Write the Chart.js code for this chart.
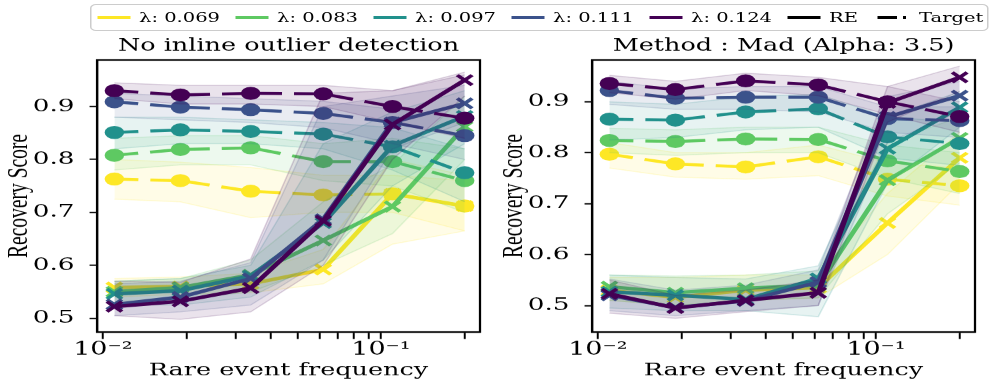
<!DOCTYPE html>
<html>
<head>
<meta charset="utf-8">
<script src="https://cdn.jsdelivr.net/npm/chart.js@4.4.0/dist/chart.umd.min.js"></script>
<style>
  html, body { margin: 0; padding: 0; background: #fff; overflow: hidden; }
  /* the reference figure is stretched horizontally, so draw narrow and stretch */
  #fig { position: absolute; left: 0; top: 0; width: 663.33px; height: 382px;
         transform: scaleX(1.5); transform-origin: 0 0; }
  #leftChart { position: absolute; left: 0; top: 0; }
  #rightChart { position: absolute; left: 330px; top: 0; }
  #legend { position: absolute; left: 60px; top: 4px; width: 599px; height: 27px;
            box-sizing: border-box; border: 1px solid #ccc; border-radius: 4px;
            background: rgba(255,255,255,0.85); display: flex; align-items: center;
            padding-left: 3.7px; font-family: 'DejaVu Serif'; font-size: 13px; color: #000; z-index: 2; }
  .item { display: flex; align-items: center; width: 92px; white-space: nowrap; flex: none; }
  .item.short { width: 60px; }
  .swatch { width: 22px; height: 3px; margin-right: 6px; flex: none; }
</style>
</head>
<body>
<div id="fig">
  <div id="legend"></div>
  <canvas id="leftChart" width="330" height="382"></canvas>
  <canvas id="rightChart" width="330" height="382"></canvas>
</div>
<script>
const lambdas = ['0.069', '0.083', '0.097', '0.111', '0.124'];
const colors = ['#fde725', '#5ec962', '#21918c', '#3b528b', '#440154'];
const xFreq = [0.011, 0.019, 0.034, 0.062, 0.11, 0.2];
const xTickValues = [0.01, 0.02, 0.03, 0.04, 0.05, 0.06, 0.07, 0.08, 0.09, 0.1, 0.2];
const xTickLabels = ['10\u207B\u00B2', '', '', '', '', '', '', '', '', '10\u207B\u00B9', ''];
const titles = ['No inline outlier detection', 'Method : Mad (Alpha: 3.5)'];

// left panel: no outlier detection
const leftRE = [
  [0.558, 0.560, 0.565, 0.592, 0.735, 0.712],
  [0.550, 0.558, 0.582, 0.647, 0.711, 0.862],
  [0.546, 0.552, 0.580, 0.680, 0.826, 0.882],
  [0.526, 0.540, 0.575, 0.687, 0.870, 0.906],
  [0.522, 0.532, 0.557, 0.684, 0.866, 0.950]
];
const leftRELo = [
  [0.540, 0.545, 0.548, 0.565, 0.640, 0.665],
  [0.532, 0.535, 0.550, 0.600, 0.660, 0.800],
  [0.525, 0.525, 0.540, 0.610, 0.750, 0.830],
  [0.505, 0.512, 0.525, 0.610, 0.820, 0.870],
  [0.505, 0.498, 0.512, 0.600, 0.800, 0.920]
];
const leftREHi = [
  [0.575, 0.578, 0.585, 0.630, 0.800, 0.770],
  [0.570, 0.575, 0.610, 0.720, 0.790, 0.920],
  [0.570, 0.575, 0.600, 0.830, 0.890, 0.930],
  [0.565, 0.570, 0.605, 0.900, 0.920, 0.940],
  [0.570, 0.568, 0.612, 0.925, 0.930, 0.965]
];
const leftTgt = [
  [0.763, 0.760, 0.740, 0.733, 0.735, 0.712],
  [0.808, 0.819, 0.822, 0.796, 0.796, 0.760],
  [0.851, 0.856, 0.853, 0.848, 0.824, 0.775],
  [0.909, 0.899, 0.894, 0.887, 0.870, 0.845],
  [0.930, 0.922, 0.925, 0.924, 0.900, 0.878]
];
const leftTgtLo = [
  [0.725, 0.720, 0.690, 0.700, 0.700, 0.665],
  [0.780, 0.790, 0.790, 0.760, 0.750, 0.700],
  [0.820, 0.830, 0.830, 0.820, 0.780, 0.720],
  [0.880, 0.875, 0.870, 0.860, 0.830, 0.800],
  [0.915, 0.905, 0.905, 0.900, 0.870, 0.840]
];
const leftTgtHi = [
  [0.800, 0.795, 0.785, 0.770, 0.770, 0.760],
  [0.840, 0.845, 0.845, 0.830, 0.840, 0.820],
  [0.880, 0.880, 0.875, 0.870, 0.860, 0.820],
  [0.925, 0.920, 0.915, 0.910, 0.895, 0.880],
  [0.945, 0.940, 0.940, 0.940, 0.930, 0.960]
];

// right panel: MAD, alpha 3.5
const rightRE = [
  [0.530, 0.516, 0.530, 0.535, 0.662, 0.790],
  [0.537, 0.525, 0.534, 0.540, 0.746, 0.829],
  [0.527, 0.520, 0.512, 0.553, 0.808, 0.889],
  [0.520, 0.496, 0.509, 0.546, 0.870, 0.912],
  [0.523, 0.495, 0.510, 0.525, 0.898, 0.948]
];
const rightRELo = [
  [0.510, 0.500, 0.510, 0.515, 0.600, 0.740],
  [0.510, 0.500, 0.510, 0.515, 0.680, 0.780],
  [0.495, 0.490, 0.490, 0.478, 0.740, 0.850],
  [0.490, 0.480, 0.490, 0.500, 0.820, 0.880],
  [0.485, 0.475, 0.488, 0.500, 0.860, 0.920]
];
const rightREHi = [
  [0.555, 0.555, 0.560, 0.560, 0.720, 0.840],
  [0.560, 0.558, 0.560, 0.568, 0.820, 0.870],
  [0.560, 0.555, 0.552, 0.578, 0.870, 0.920],
  [0.552, 0.530, 0.540, 0.570, 0.910, 0.940],
  [0.550, 0.520, 0.530, 0.550, 0.930, 0.970]
];
const rightTgt = [
  [0.797, 0.778, 0.772, 0.792, 0.748, 0.735],
  [0.824, 0.822, 0.827, 0.826, 0.784, 0.763],
  [0.866, 0.864, 0.880, 0.886, 0.831, 0.818],
  [0.922, 0.907, 0.909, 0.909, 0.867, 0.863],
  [0.936, 0.924, 0.941, 0.933, 0.900, 0.871]
];
const rightTgtLo = [
  [0.770, 0.752, 0.748, 0.755, 0.715, 0.697],
  [0.800, 0.795, 0.800, 0.800, 0.750, 0.720],
  [0.825, 0.830, 0.845, 0.850, 0.790, 0.775],
  [0.895, 0.885, 0.885, 0.880, 0.840, 0.830],
  [0.918, 0.905, 0.922, 0.912, 0.875, 0.840]
];
const rightTgtHi = [
  [0.820, 0.800, 0.800, 0.815, 0.780, 0.770],
  [0.848, 0.845, 0.850, 0.850, 0.815, 0.800],
  [0.900, 0.895, 0.910, 0.915, 0.870, 0.860],
  [0.940, 0.925, 0.930, 0.930, 0.890, 0.890],
  [0.952, 0.940, 0.956, 0.948, 0.930, 0.900]
];

const serif = 'DejaVu Serif';

function rgba(hex, a) {
  const n = parseInt(hex.slice(1), 16);
  return 'rgba(' + (n >> 16) + ',' + ((n >> 8) & 255) + ',' + (n & 255) + ',' + a + ')';
}

function pts(vals) {
  return xFreq.map((x, j) => ({ x: x, y: vals[j] }));
}

function band(lo, hi, c) {
  return [
    { data: pts(lo), borderColor: rgba(c, 0.18), borderWidth: 1, pointRadius: 0, fill: false },
    { data: pts(hi), borderColor: rgba(c, 0.18), borderWidth: 1, pointRadius: 0,
      fill: '-1', backgroundColor: rgba(c, 0.11) }
  ];
}

function buildDatasets(re, reLo, reHi, tgt, tgtLo, tgtHi) {
  const ds = [];
  lambdas.forEach((lam, i) => {
    const c = colors[i];
    ds.push(...band(reLo[i], reHi[i], c));
    ds.push({ data: pts(re[i]), borderColor: c, borderWidth: 3.5, fill: false,
      pointStyle: 'crossRot', pointRadius: 7, pointBorderWidth: 3, pointBorderColor: c,
      pointBackgroundColor: c });
    ds.push(...band(tgtLo[i], tgtHi[i], c));
    ds.push({ data: pts(tgt[i]), borderColor: c, borderWidth: 3, borderDash: [16, 8], fill: false,
      pointStyle: 'circle', pointRadius: 6.5, pointBorderWidth: 0, pointBackgroundColor: c });
  });
  // later series sit on top, like the plotting order
  ds.forEach((d, k) => { d.order = ds.length - k; });
  return ds;
}

const frame = {
  id: 'frame',
  afterDatasetsDraw(chart) {
    const a = chart.chartArea, ctx = chart.ctx;
    ctx.save();
    ctx.strokeStyle = '#000';
    ctx.lineWidth = 1.5;
    ctx.strokeRect(a.left, a.top, a.right - a.left, a.bottom - a.top);
    ctx.restore();
  }
};

function makeChart(id, title, yMin, yMax, datasets) {
  return new Chart(document.getElementById(id), {
    type: 'line',
    data: { datasets: datasets },
    options: {
      responsive: false,
      animation: false,
      devicePixelRatio: 1.5,
      layout: { padding: { left: 0, right: 4.7, top: 0, bottom: 0 } },
      plugins: {
        legend: { display: false },
        tooltip: { enabled: false },
        filler: { drawTime: 'beforeDatasetDraw' },
        title: { display: true, text: title, fullSize: false, color: '#000',
          font: { family: serif, size: 17, weight: 'normal' }, padding: { top: 36, bottom: 3.6 } }
      },
      scales: {
        x: {
          type: 'logarithmic', min: 0.00953, max: 0.227,
          afterBuildTicks: s => { s.ticks = xTickValues.map(v => ({ value: v })); },
          afterFit: s => { s.height = 50; },
          border: { display: true, color: '#000', width: 1.5 },
          grid: { drawOnChartArea: false, drawTicks: true, tickLength: 7, tickWidth: 1.3, tickColor: '#000' },
          ticks: { autoSkip: false, maxRotation: 0, padding: 0, color: '#000',
            font: { family: serif, size: 18 }, callback: (v, i) => xTickLabels[i] },
          title: { display: true, text: 'Rare event frequency', color: '#000',
            font: { family: serif, size: 17 }, padding: { top: 0, bottom: 1 } }
        },
        y: {
          type: 'linear', min: yMin, max: yMax,
          afterFit: s => { s.width = 64.7; },
          border: { display: true, color: '#000', width: 1.5 },
          grid: { drawOnChartArea: false, drawTicks: true, tickLength: 5, tickWidth: 1.3, tickColor: '#000' },
          ticks: { stepSize: 0.1, includeBounds: false, padding: 10, color: '#000',
            font: { family: serif, size: 17.5 }, callback: v => v.toFixed(1) },
          title: { display: true, text: 'Recovery Score', color: '#000',
            font: { family: 'Liberation Serif', size: 19.5 }, padding: { top: 1, bottom: 0 } }
        }
      }
    },
    plugins: [frame]
  });
}

makeChart('leftChart', titles[0], 0.474, 0.988,
  buildDatasets(leftRE, leftRELo, leftREHi, leftTgt, leftTgtLo, leftTgtHi));
makeChart('rightChart', titles[1], 0.448, 0.982,
  buildDatasets(rightRE, rightRELo, rightREHi, rightTgt, rightTgtLo, rightTgtHi));

// shared legend across both panels
const legend = document.getElementById('legend');
function addItem(label, color, dashed, short) {
  const item = document.createElement('div');
  item.className = short ? 'item short' : 'item';
  const sw = document.createElement('span');
  sw.className = 'swatch';
  sw.style.background = dashed
    ? 'linear-gradient(to right, ' + color + ' 0 13px, transparent 13px 17px, ' + color + ' 17px 19px, transparent 19px)'
    : color;
  const tx = document.createElement('span');
  tx.textContent = label;
  item.appendChild(sw);
  item.appendChild(tx);
  legend.appendChild(item);
}
lambdas.forEach((lam, i) => addItem('\u03BB: ' + lam, colors[i], false, false));
addItem('RE', '#000', false, true);
addItem('Target', '#000', true, true);
</script>
</body>
</html>
